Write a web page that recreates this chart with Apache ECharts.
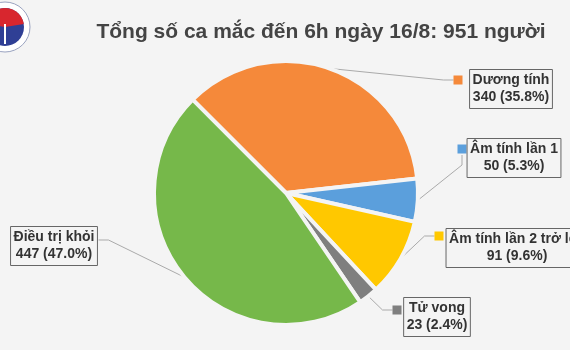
<!DOCTYPE html>
<html>
<head>
<meta charset="utf-8">
<script src="https://cdn.jsdelivr.net/npm/echarts@6/dist/echarts.min.js"></script>
<style>
html,body{margin:0;padding:0;background:#f4f4f4;}
#c{width:570px;height:350px;}
</style>
</head>
<body>
<div id="c"></div>
<script>
const categories = ['Dương tính', 'Âm tính lần 1', 'Âm tính lần 2 trở lên', 'Tử vong', 'Điều trị khỏi'];
const values = [340, 50, 91, 23, 447];
const colors = ['#F5893A', '#5B9FDC', '#FFC800', '#7F7F7F', '#76B84A'];
const titleText = 'Tổng số ca mắc đến 6h ngày 16/8: 951 người';

// label layout constants (box centers and marker centers)
const boxPos = [[511, 89], [514, 158], [517, 248], [437, 317], [54, 246]];
const sqPos = [[458, 80], [462, 149], [439, 236], [397, 310], [94, 240]];

const chart = echarts.init(document.getElementById('c'));
const data = categories.map((n, i) => ({ name: n, value: values[i], itemStyle: { color: colors[i] } }));
const rich = {};
colors.forEach((c, i) => { rich['s' + i] = { width: 9, height: 9, backgroundColor: i === 4 ? 'rgba(0,0,0,0)' : c }; });

chart.setOption({
  backgroundColor: '#f4f4f4',
  title: {
    text: titleText, left: 316, top: 17, textAlign: 'center',
    textStyle: { fontFamily: 'Liberation Sans, Arial', fontWeight: 'bold', fontSize: 21, color: '#444' }
  },
  graphic: [
    { type: 'circle', shape: { cx: 5, cy: 27, r: 25 }, style: { fill: '#ffffff', stroke: '#9aa3c0', lineWidth: 1 } },
    { type: 'circle', shape: { cx: 5, cy: 27, r: 19 }, style: { fill: '#2f3f95' } },
    { type: 'sector', shape: { cx: 5, cy: 27, r: 19, r0: 0, startAngle: -Math.PI * 0.95, endAngle: -Math.PI * 0.05 }, style: { fill: '#d8262e' } },
    { type: 'rect', shape: { x: 4, y: 24, width: 2, height: 20 }, style: { fill: '#ffffff' } }
  ],
  series: [
    {
      type: 'pie', center: [286, 193], radius: 132, startAngle: 135, clockwise: true,
      avoidLabelOverlap: false, animation: false,
      data: data,
      itemStyle: { borderColor: '#f4f4f4', borderWidth: 4 },
      label: {
        show: true, position: 'outside',
        formatter: p => p.name + '\n' + p.value + ' (' + p.percent.toFixed(1) + '%)',
        fontFamily: 'Liberation Sans, Arial', fontWeight: 'bold', fontSize: 14, lineHeight: 17,
        color: '#333', borderColor: '#666', borderWidth: 1, padding: [3, 3, 2, 3], align: 'center'
      },
      labelLine: { show: false },
      labelLayout: p => ({ x: boxPos[p.dataIndex][0], y: boxPos[p.dataIndex][1], align: 'center', verticalAlign: 'middle' })
    },
    {
      type: 'pie', center: [286, 193], radius: 132, startAngle: 135, clockwise: true,
      avoidLabelOverlap: false, animation: false, silent: true, z: 1,
      data: categories.map((n, i) => ({ name: n, value: values[i] })),
      itemStyle: { color: 'rgba(0,0,0,0)' },
      label: { show: true, position: 'outside', formatter: p => '{s' + p.dataIndex + '|}', rich: rich },
      labelLine: { show: true, length: 10, length2: 10, lineStyle: { color: '#aaaaaa', width: 1 } },
      labelLayout: p => ({ x: sqPos[p.dataIndex][0], y: sqPos[p.dataIndex][1], align: 'center', verticalAlign: 'middle' })
    }
  ]
});
</script>
</body>
</html>
